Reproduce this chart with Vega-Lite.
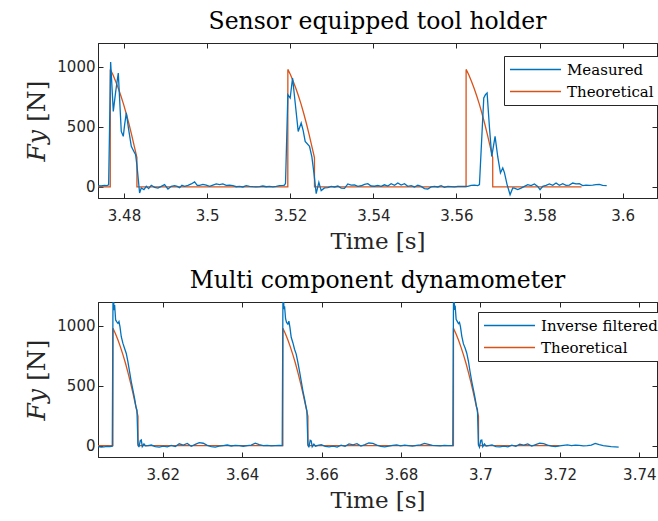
{
  "$schema": "https://vega.github.io/schema/vega-lite/v6.json",
  "background": "white",
  "padding": {"left": 24, "top": 9, "right": 0, "bottom": 0},
  "spacing": 14,
  "config": {
    "view": {"stroke": "#262626", "strokeWidth": 1},
    "axis": {"grid": false, "domainColor": "#262626", "tickColor": "#262626", "labelColor": "#262626", "labelFont": "DejaVu Sans", "labelFontSize": 15, "titleFont": "DejaVu Serif", "titleFontSize": 23, "titleFontWeight": "normal", "titleColor": "#262626", "tickSize": -5, "labelPadding": 15},
    "title": {"font": "DejaVu Serif", "fontSize": 23.5, "fontWeight": "normal", "color": "#000000", "anchor": "middle", "offset": 9.5},
    "legend": {"orient": "none", "fillColor": "white", "strokeColor": "#262626", "padding": 5, "labelFont": "DejaVu Serif", "labelFontSize": 15, "labelColor": "#000000", "symbolType": "stroke", "symbolSize": 2600, "symbolStrokeWidth": 1.3, "clipHeight": 17, "rowPadding": 5, "labelOffset": 5, "title": null}
  },
  "datasets": {
    "top": [
      {"s": "Theoretical", "t": 3.47375, "v": 0}, {"s": "Theoretical", "t": 3.4767, "v": 0},
      {"s": "Theoretical", "t": 3.47671, "v": 980}, {"s": "Theoretical", "t": 3.47735, "v": 935}, {"s": "Theoretical", "t": 3.47799, "v": 882}, {"s": "Theoretical", "t": 3.47863, "v": 823}, {"s": "Theoretical", "t": 3.47927, "v": 758}, {"s": "Theoretical", "t": 3.47991, "v": 688}, {"s": "Theoretical", "t": 3.48055, "v": 610}, {"s": "Theoretical", "t": 3.48119, "v": 527}, {"s": "Theoretical", "t": 3.48183, "v": 437}, {"s": "Theoretical", "t": 3.48247, "v": 340}, {"s": "Theoretical", "t": 3.48311, "v": 245},
      {"s": "Theoretical", "t": 3.48312, "v": 0}, {"s": "Theoretical", "t": 3.51942, "v": 0},
      {"s": "Theoretical", "t": 3.51943, "v": 980}, {"s": "Theoretical", "t": 3.52007, "v": 935}, {"s": "Theoretical", "t": 3.52071, "v": 882}, {"s": "Theoretical", "t": 3.52135, "v": 823}, {"s": "Theoretical", "t": 3.52199, "v": 758}, {"s": "Theoretical", "t": 3.52263, "v": 688}, {"s": "Theoretical", "t": 3.52327, "v": 610}, {"s": "Theoretical", "t": 3.52391, "v": 527}, {"s": "Theoretical", "t": 3.52455, "v": 437}, {"s": "Theoretical", "t": 3.52519, "v": 340}, {"s": "Theoretical", "t": 3.52583, "v": 245},
      {"s": "Theoretical", "t": 3.52584, "v": 0}, {"s": "Theoretical", "t": 3.56231, "v": 0},
      {"s": "Theoretical", "t": 3.56232, "v": 980}, {"s": "Theoretical", "t": 3.56296, "v": 935}, {"s": "Theoretical", "t": 3.5636, "v": 882}, {"s": "Theoretical", "t": 3.56424, "v": 823}, {"s": "Theoretical", "t": 3.56488, "v": 758}, {"s": "Theoretical", "t": 3.56552, "v": 688}, {"s": "Theoretical", "t": 3.56616, "v": 610}, {"s": "Theoretical", "t": 3.5668, "v": 527}, {"s": "Theoretical", "t": 3.56744, "v": 437}, {"s": "Theoretical", "t": 3.56808, "v": 340}, {"s": "Theoretical", "t": 3.56872, "v": 245},
      {"s": "Theoretical", "t": 3.56873, "v": 0}, {"s": "Theoretical", "t": 3.5901, "v": 0},
      {"s": "Measured", "t": 3.47375, "v": 12}, {"s": "Measured", "t": 3.4745, "v": 8}, {"s": "Measured", "t": 3.4753, "v": 14}, {"s": "Measured", "t": 3.4759, "v": 12}, {"s": "Measured", "t": 3.47631, "v": 18},
      {"s": "Measured", "t": 3.47679, "v": 1042}, {"s": "Measured", "t": 3.47743, "v": 630}, {"s": "Measured", "t": 3.47799, "v": 790}, {"s": "Measured", "t": 3.47863, "v": 950}, {"s": "Measured", "t": 3.47935, "v": 463}, {"s": "Measured", "t": 3.47983, "v": 422}, {"s": "Measured", "t": 3.48016, "v": 520}, {"s": "Measured", "t": 3.48056, "v": 617}, {"s": "Measured", "t": 3.48112, "v": 480}, {"s": "Measured", "t": 3.48176, "v": 338}, {"s": "Measured", "t": 3.48232, "v": 300}, {"s": "Measured", "t": 3.4828, "v": 269}, {"s": "Measured", "t": 3.48312, "v": 180}, {"s": "Measured", "t": 3.48376, "v": -50},
      {"s": "Measured", "t": 3.48416, "v": -8}, {"s": "Measured", "t": 3.4848, "v": -22}, {"s": "Measured", "t": 3.48537, "v": 5}, {"s": "Measured", "t": 3.48593, "v": -14}, {"s": "Measured", "t": 3.48657, "v": 14}, {"s": "Measured", "t": 3.48737, "v": -3}, {"s": "Measured", "t": 3.48817, "v": -9}, {"s": "Measured", "t": 3.48897, "v": 5}, {"s": "Measured", "t": 3.48977, "v": 19}, {"s": "Measured", "t": 3.49058, "v": -17}, {"s": "Measured", "t": 3.49138, "v": 5}, {"s": "Measured", "t": 3.49218, "v": 11}, {"s": "Measured", "t": 3.49282, "v": 5}, {"s": "Measured", "t": 3.49338, "v": -6}, {"s": "Measured", "t": 3.49394, "v": 14}, {"s": "Measured", "t": 3.49458, "v": 5}, {"s": "Measured", "t": 3.49539, "v": 14}, {"s": "Measured", "t": 3.49619, "v": 25}, {"s": "Measured", "t": 3.49699, "v": 42}, {"s": "Measured", "t": 3.49763, "v": 14}, {"s": "Measured", "t": 3.49819, "v": 14}, {"s": "Measured", "t": 3.49899, "v": 22}, {"s": "Measured", "t": 3.49979, "v": 16}, {"s": "Measured", "t": 3.5006, "v": 5}, {"s": "Measured", "t": 3.5014, "v": 16}, {"s": "Measured", "t": 3.5022, "v": 25}, {"s": "Measured", "t": 3.503, "v": 19}, {"s": "Measured", "t": 3.5038, "v": 25}, {"s": "Measured", "t": 3.5046, "v": 14}, {"s": "Measured", "t": 3.50541, "v": 16}, {"s": "Measured", "t": 3.50621, "v": 11}, {"s": "Measured", "t": 3.50701, "v": 2}, {"s": "Measured", "t": 3.50781, "v": 5}, {"s": "Measured", "t": 3.50861, "v": 0}, {"s": "Measured", "t": 3.50941, "v": 11}, {"s": "Measured", "t": 3.51021, "v": 5}, {"s": "Measured", "t": 3.51102, "v": 2}, {"s": "Measured", "t": 3.51182, "v": 0}, {"s": "Measured", "t": 3.51262, "v": 2}, {"s": "Measured", "t": 3.51342, "v": 8}, {"s": "Measured", "t": 3.51422, "v": 2}, {"s": "Measured", "t": 3.51503, "v": 5}, {"s": "Measured", "t": 3.51583, "v": 0}, {"s": "Measured", "t": 3.51663, "v": 5}, {"s": "Measured", "t": 3.51743, "v": 11}, {"s": "Measured", "t": 3.51823, "v": 14}, {"s": "Measured", "t": 3.51863, "v": 16}, {"s": "Measured", "t": 3.51887, "v": 30},
      {"s": "Measured", "t": 3.51943, "v": 769}, {"s": "Measured", "t": 3.51999, "v": 741}, {"s": "Measured", "t": 3.52056, "v": 908}, {"s": "Measured", "t": 3.5212, "v": 700}, {"s": "Measured", "t": 3.52192, "v": 463}, {"s": "Measured", "t": 3.52264, "v": 533}, {"s": "Measured", "t": 3.52312, "v": 470}, {"s": "Measured", "t": 3.5236, "v": 380}, {"s": "Measured", "t": 3.52464, "v": 338}, {"s": "Measured", "t": 3.52521, "v": 250}, {"s": "Measured", "t": 3.52569, "v": 120}, {"s": "Measured", "t": 3.52625, "v": -55},
      {"s": "Measured", "t": 3.52689, "v": 38}, {"s": "Measured", "t": 3.52745, "v": -30}, {"s": "Measured", "t": 3.52825, "v": -8}, {"s": "Measured", "t": 3.52905, "v": -5}, {"s": "Measured", "t": 3.52985, "v": 5}, {"s": "Measured", "t": 3.53066, "v": 0}, {"s": "Measured", "t": 3.53146, "v": 8}, {"s": "Measured", "t": 3.53226, "v": -10}, {"s": "Measured", "t": 3.53306, "v": -12}, {"s": "Measured", "t": 3.53386, "v": 25}, {"s": "Measured", "t": 3.53466, "v": 15}, {"s": "Measured", "t": 3.53547, "v": 18}, {"s": "Measured", "t": 3.53627, "v": 5}, {"s": "Measured", "t": 3.53707, "v": 10}, {"s": "Measured", "t": 3.53787, "v": 22}, {"s": "Measured", "t": 3.53867, "v": 28}, {"s": "Measured", "t": 3.53947, "v": 8}, {"s": "Measured", "t": 3.54027, "v": 6}, {"s": "Measured", "t": 3.54108, "v": 12}, {"s": "Measured", "t": 3.54188, "v": 5}, {"s": "Measured", "t": 3.54268, "v": 18}, {"s": "Measured", "t": 3.54348, "v": 8}, {"s": "Measured", "t": 3.54428, "v": 27}, {"s": "Measured", "t": 3.54509, "v": 14}, {"s": "Measured", "t": 3.54589, "v": 33}, {"s": "Measured", "t": 3.54669, "v": 16}, {"s": "Measured", "t": 3.54749, "v": 27}, {"s": "Measured", "t": 3.54829, "v": 5}, {"s": "Measured", "t": 3.54909, "v": 11}, {"s": "Measured", "t": 3.5499, "v": 0}, {"s": "Measured", "t": 3.5507, "v": 14}, {"s": "Measured", "t": 3.5515, "v": 5}, {"s": "Measured", "t": 3.5523, "v": -14}, {"s": "Measured", "t": 3.5531, "v": -17}, {"s": "Measured", "t": 3.5539, "v": 0}, {"s": "Measured", "t": 3.5547, "v": 5}, {"s": "Measured", "t": 3.55551, "v": 0}, {"s": "Measured", "t": 3.55631, "v": 11}, {"s": "Measured", "t": 3.55711, "v": -3}, {"s": "Measured", "t": 3.55791, "v": 5}, {"s": "Measured", "t": 3.55871, "v": 3}, {"s": "Measured", "t": 3.55951, "v": 0}, {"s": "Measured", "t": 3.56032, "v": 5}, {"s": "Measured", "t": 3.56112, "v": 5}, {"s": "Measured", "t": 3.56192, "v": 5}, {"s": "Measured", "t": 3.56272, "v": 5}, {"s": "Measured", "t": 3.56352, "v": 14}, {"s": "Measured", "t": 3.56432, "v": 16}, {"s": "Measured", "t": 3.56513, "v": 11}, {"s": "Measured", "t": 3.56553, "v": 19},
      {"s": "Measured", "t": 3.56593, "v": 300}, {"s": "Measured", "t": 3.56657, "v": 742}, {"s": "Measured", "t": 3.56697, "v": 770}, {"s": "Measured", "t": 3.56737, "v": 783}, {"s": "Measured", "t": 3.56793, "v": 500}, {"s": "Measured", "t": 3.56849, "v": 255}, {"s": "Measured", "t": 3.56929, "v": 422}, {"s": "Measured", "t": 3.56994, "v": 250}, {"s": "Measured", "t": 3.57058, "v": 117}, {"s": "Measured", "t": 3.57114, "v": 158}, {"s": "Measured", "t": 3.57154, "v": 120}, {"s": "Measured", "t": 3.57218, "v": 20}, {"s": "Measured", "t": 3.5729, "v": -64}, {"s": "Measured", "t": 3.57354, "v": -8},
      {"s": "Measured", "t": 3.57394, "v": -9}, {"s": "Measured", "t": 3.57474, "v": -22}, {"s": "Measured", "t": 3.57555, "v": -9}, {"s": "Measured", "t": 3.57635, "v": 5}, {"s": "Measured", "t": 3.57715, "v": 19}, {"s": "Measured", "t": 3.57795, "v": 11}, {"s": "Measured", "t": 3.57875, "v": 25}, {"s": "Measured", "t": 3.57955, "v": 5}, {"s": "Measured", "t": 3.58011, "v": -22}, {"s": "Measured", "t": 3.58076, "v": 5}, {"s": "Measured", "t": 3.58156, "v": 14}, {"s": "Measured", "t": 3.58236, "v": 25}, {"s": "Measured", "t": 3.58316, "v": 14}, {"s": "Measured", "t": 3.58396, "v": 33}, {"s": "Measured", "t": 3.58476, "v": 14}, {"s": "Measured", "t": 3.58557, "v": 27}, {"s": "Measured", "t": 3.58637, "v": 14}, {"s": "Measured", "t": 3.58717, "v": 16}, {"s": "Measured", "t": 3.58797, "v": 33}, {"s": "Measured", "t": 3.58877, "v": 25}, {"s": "Measured", "t": 3.58957, "v": 27}, {"s": "Measured", "t": 3.59038, "v": 11}, {"s": "Measured", "t": 3.59118, "v": 16}, {"s": "Measured", "t": 3.59198, "v": 14}, {"s": "Measured", "t": 3.59278, "v": 16}, {"s": "Measured", "t": 3.59358, "v": 19}, {"s": "Measured", "t": 3.59438, "v": 22}, {"s": "Measured", "t": 3.59518, "v": 14}, {"s": "Measured", "t": 3.59615, "v": 11}
    ],
    "bot": [
      {"s": "Theoretical", "t": 3.60369, "v": 0}, {"s": "Theoretical", "t": 3.60745, "v": 0},
      {"s": "Theoretical", "t": 3.60746, "v": 980}, {"s": "Theoretical", "t": 3.60809, "v": 935}, {"s": "Theoretical", "t": 3.60872, "v": 882}, {"s": "Theoretical", "t": 3.60935, "v": 823}, {"s": "Theoretical", "t": 3.60998, "v": 758}, {"s": "Theoretical", "t": 3.61061, "v": 688}, {"s": "Theoretical", "t": 3.61124, "v": 610}, {"s": "Theoretical", "t": 3.61187, "v": 527}, {"s": "Theoretical", "t": 3.6125, "v": 437}, {"s": "Theoretical", "t": 3.61313, "v": 340}, {"s": "Theoretical", "t": 3.61376, "v": 245},
      {"s": "Theoretical", "t": 3.61377, "v": 0}, {"s": "Theoretical", "t": 3.65024, "v": 0},
      {"s": "Theoretical", "t": 3.65025, "v": 980}, {"s": "Theoretical", "t": 3.65088, "v": 935}, {"s": "Theoretical", "t": 3.65151, "v": 882}, {"s": "Theoretical", "t": 3.65214, "v": 823}, {"s": "Theoretical", "t": 3.65277, "v": 758}, {"s": "Theoretical", "t": 3.6534, "v": 688}, {"s": "Theoretical", "t": 3.65403, "v": 610}, {"s": "Theoretical", "t": 3.65466, "v": 527}, {"s": "Theoretical", "t": 3.65529, "v": 437}, {"s": "Theoretical", "t": 3.65592, "v": 340}, {"s": "Theoretical", "t": 3.65655, "v": 245},
      {"s": "Theoretical", "t": 3.65656, "v": 0}, {"s": "Theoretical", "t": 3.69319, "v": 0},
      {"s": "Theoretical", "t": 3.6932, "v": 980}, {"s": "Theoretical", "t": 3.69383, "v": 935}, {"s": "Theoretical", "t": 3.69446, "v": 882}, {"s": "Theoretical", "t": 3.69509, "v": 823}, {"s": "Theoretical", "t": 3.69572, "v": 758}, {"s": "Theoretical", "t": 3.69635, "v": 688}, {"s": "Theoretical", "t": 3.69698, "v": 610}, {"s": "Theoretical", "t": 3.69761, "v": 527}, {"s": "Theoretical", "t": 3.69824, "v": 437}, {"s": "Theoretical", "t": 3.69887, "v": 340}, {"s": "Theoretical", "t": 3.6995, "v": 245},
      {"s": "Theoretical", "t": 3.69951, "v": 0}, {"s": "Theoretical", "t": 3.7199, "v": 0},
      {"s": "Inverse filtered", "t": 3.60369, "v": -8}, {"s": "Inverse filtered", "t": 3.6045, "v": -12}, {"s": "Inverse filtered", "t": 3.6052, "v": -10}, {"s": "Inverse filtered", "t": 3.606, "v": -6}, {"s": "Inverse filtered", "t": 3.6067, "v": -9}, {"s": "Inverse filtered", "t": 3.60729, "v": -5},
      {"s": "Inverse filtered", "t": 3.60746, "v": 1190}, {"s": "Inverse filtered", "t": 3.60763, "v": 1260}, {"s": "Inverse filtered", "t": 3.60771, "v": 1132}, {"s": "Inverse filtered", "t": 3.60788, "v": 1175}, {"s": "Inverse filtered", "t": 3.60813, "v": 1050}, {"s": "Inverse filtered", "t": 3.60838, "v": 1036}, {"s": "Inverse filtered", "t": 3.60872, "v": 1022}, {"s": "Inverse filtered", "t": 3.60897, "v": 1036}, {"s": "Inverse filtered", "t": 3.60922, "v": 994}, {"s": "Inverse filtered", "t": 3.60955, "v": 910}, {"s": "Inverse filtered", "t": 3.60997, "v": 854}, {"s": "Inverse filtered", "t": 3.61039, "v": 812}, {"s": "Inverse filtered", "t": 3.61081, "v": 770}, {"s": "Inverse filtered", "t": 3.61123, "v": 700}, {"s": "Inverse filtered", "t": 3.61165, "v": 617}, {"s": "Inverse filtered", "t": 3.61207, "v": 533}, {"s": "Inverse filtered", "t": 3.61249, "v": 463}, {"s": "Inverse filtered", "t": 3.61291, "v": 393}, {"s": "Inverse filtered", "t": 3.61325, "v": 324}, {"s": "Inverse filtered", "t": 3.6135, "v": 296}, {"s": "Inverse filtered", "t": 3.61375, "v": 15}, {"s": "Inverse filtered", "t": 3.614, "v": -13}, {"s": "Inverse filtered", "t": 3.61434, "v": 42}, {"s": "Inverse filtered", "t": 3.61459, "v": 48}, {"s": "Inverse filtered", "t": 3.61484, "v": -8}, {"s": "Inverse filtered", "t": 3.61526, "v": 14}, {"s": "Inverse filtered", "t": 3.61568, "v": -2}, {"s": "Inverse filtered", "t": 3.61627, "v": 0},
      {"s": "Inverse filtered", "t": 3.61711, "v": 5}, {"s": "Inverse filtered", "t": 3.61811, "v": -8}, {"s": "Inverse filtered", "t": 3.61912, "v": -12}, {"s": "Inverse filtered", "t": 3.62013, "v": -5}, {"s": "Inverse filtered", "t": 3.62113, "v": -10}, {"s": "Inverse filtered", "t": 3.62214, "v": 2}, {"s": "Inverse filtered", "t": 3.62315, "v": -8}, {"s": "Inverse filtered", "t": 3.62415, "v": 15}, {"s": "Inverse filtered", "t": 3.62516, "v": 5}, {"s": "Inverse filtered", "t": 3.62617, "v": 18}, {"s": "Inverse filtered", "t": 3.62717, "v": -5}, {"s": "Inverse filtered", "t": 3.62818, "v": 10}, {"s": "Inverse filtered", "t": 3.62919, "v": 25}, {"s": "Inverse filtered", "t": 3.63019, "v": 20}, {"s": "Inverse filtered", "t": 3.6312, "v": 2}, {"s": "Inverse filtered", "t": 3.63221, "v": -8}, {"s": "Inverse filtered", "t": 3.63321, "v": -12}, {"s": "Inverse filtered", "t": 3.63422, "v": -5}, {"s": "Inverse filtered", "t": 3.63523, "v": 0}, {"s": "Inverse filtered", "t": 3.63623, "v": 5}, {"s": "Inverse filtered", "t": 3.63724, "v": -3}, {"s": "Inverse filtered", "t": 3.63825, "v": 2}, {"s": "Inverse filtered", "t": 3.63925, "v": 0}, {"s": "Inverse filtered", "t": 3.64026, "v": -5}, {"s": "Inverse filtered", "t": 3.64127, "v": 0}, {"s": "Inverse filtered", "t": 3.64227, "v": 5}, {"s": "Inverse filtered", "t": 3.64328, "v": 20}, {"s": "Inverse filtered", "t": 3.64429, "v": 8}, {"s": "Inverse filtered", "t": 3.64529, "v": 0}, {"s": "Inverse filtered", "t": 3.6463, "v": 2}, {"s": "Inverse filtered", "t": 3.64731, "v": -2}, {"s": "Inverse filtered", "t": 3.64831, "v": 0}, {"s": "Inverse filtered", "t": 3.64932, "v": 2}, {"s": "Inverse filtered", "t": 3.65008, "v": 0},
      {"s": "Inverse filtered", "t": 3.65025, "v": 1185}, {"s": "Inverse filtered", "t": 3.65042, "v": 1255}, {"s": "Inverse filtered", "t": 3.6505, "v": 1140}, {"s": "Inverse filtered", "t": 3.65067, "v": 1165}, {"s": "Inverse filtered", "t": 3.65092, "v": 1060}, {"s": "Inverse filtered", "t": 3.65117, "v": 1030}, {"s": "Inverse filtered", "t": 3.65151, "v": 1015}, {"s": "Inverse filtered", "t": 3.65176, "v": 1040}, {"s": "Inverse filtered", "t": 3.65201, "v": 990}, {"s": "Inverse filtered", "t": 3.65234, "v": 905}, {"s": "Inverse filtered", "t": 3.65276, "v": 860}, {"s": "Inverse filtered", "t": 3.65318, "v": 805}, {"s": "Inverse filtered", "t": 3.6536, "v": 765}, {"s": "Inverse filtered", "t": 3.65402, "v": 695}, {"s": "Inverse filtered", "t": 3.65444, "v": 620}, {"s": "Inverse filtered", "t": 3.65486, "v": 540}, {"s": "Inverse filtered", "t": 3.65528, "v": 458}, {"s": "Inverse filtered", "t": 3.6557, "v": 390}, {"s": "Inverse filtered", "t": 3.65604, "v": 330}, {"s": "Inverse filtered", "t": 3.65629, "v": 290}, {"s": "Inverse filtered", "t": 3.65654, "v": 12}, {"s": "Inverse filtered", "t": 3.65679, "v": -15}, {"s": "Inverse filtered", "t": 3.65713, "v": 45}, {"s": "Inverse filtered", "t": 3.65738, "v": 40}, {"s": "Inverse filtered", "t": 3.65763, "v": -10}, {"s": "Inverse filtered", "t": 3.65805, "v": 12}, {"s": "Inverse filtered", "t": 3.65847, "v": -5}, {"s": "Inverse filtered", "t": 3.65906, "v": 2},
      {"s": "Inverse filtered", "t": 3.6599, "v": 8}, {"s": "Inverse filtered", "t": 3.6609, "v": -6}, {"s": "Inverse filtered", "t": 3.6619, "v": -10}, {"s": "Inverse filtered", "t": 3.6629, "v": -4}, {"s": "Inverse filtered", "t": 3.6639, "v": -12}, {"s": "Inverse filtered", "t": 3.6649, "v": 4}, {"s": "Inverse filtered", "t": 3.6659, "v": -6}, {"s": "Inverse filtered", "t": 3.6669, "v": 14}, {"s": "Inverse filtered", "t": 3.6679, "v": 6}, {"s": "Inverse filtered", "t": 3.6689, "v": 16}, {"s": "Inverse filtered", "t": 3.6699, "v": -4}, {"s": "Inverse filtered", "t": 3.6709, "v": 8}, {"s": "Inverse filtered", "t": 3.6719, "v": 22}, {"s": "Inverse filtered", "t": 3.6729, "v": 18}, {"s": "Inverse filtered", "t": 3.6739, "v": 4}, {"s": "Inverse filtered", "t": 3.6749, "v": -6}, {"s": "Inverse filtered", "t": 3.6759, "v": -10}, {"s": "Inverse filtered", "t": 3.6769, "v": -4}, {"s": "Inverse filtered", "t": 3.6779, "v": 2}, {"s": "Inverse filtered", "t": 3.6789, "v": 6}, {"s": "Inverse filtered", "t": 3.6799, "v": -2}, {"s": "Inverse filtered", "t": 3.6809, "v": 4}, {"s": "Inverse filtered", "t": 3.6819, "v": 0}, {"s": "Inverse filtered", "t": 3.6829, "v": -4}, {"s": "Inverse filtered", "t": 3.6839, "v": 2}, {"s": "Inverse filtered", "t": 3.6849, "v": 6}, {"s": "Inverse filtered", "t": 3.6859, "v": 18}, {"s": "Inverse filtered", "t": 3.6869, "v": 10}, {"s": "Inverse filtered", "t": 3.6879, "v": 2}, {"s": "Inverse filtered", "t": 3.6889, "v": 0}, {"s": "Inverse filtered", "t": 3.6899, "v": -2}, {"s": "Inverse filtered", "t": 3.6909, "v": 2}, {"s": "Inverse filtered", "t": 3.6919, "v": 0}, {"s": "Inverse filtered", "t": 3.69303, "v": 0},
      {"s": "Inverse filtered", "t": 3.6932, "v": 1195}, {"s": "Inverse filtered", "t": 3.69337, "v": 1250}, {"s": "Inverse filtered", "t": 3.69345, "v": 1135}, {"s": "Inverse filtered", "t": 3.69362, "v": 1170}, {"s": "Inverse filtered", "t": 3.69387, "v": 1055}, {"s": "Inverse filtered", "t": 3.69412, "v": 1040}, {"s": "Inverse filtered", "t": 3.69446, "v": 1020}, {"s": "Inverse filtered", "t": 3.69471, "v": 1030}, {"s": "Inverse filtered", "t": 3.69496, "v": 995}, {"s": "Inverse filtered", "t": 3.69529, "v": 915}, {"s": "Inverse filtered", "t": 3.69571, "v": 850}, {"s": "Inverse filtered", "t": 3.69613, "v": 815}, {"s": "Inverse filtered", "t": 3.69655, "v": 772}, {"s": "Inverse filtered", "t": 3.69697, "v": 705}, {"s": "Inverse filtered", "t": 3.69739, "v": 615}, {"s": "Inverse filtered", "t": 3.69781, "v": 535}, {"s": "Inverse filtered", "t": 3.69823, "v": 465}, {"s": "Inverse filtered", "t": 3.69865, "v": 395}, {"s": "Inverse filtered", "t": 3.69899, "v": 328}, {"s": "Inverse filtered", "t": 3.69924, "v": 300}, {"s": "Inverse filtered", "t": 3.69949, "v": 10}, {"s": "Inverse filtered", "t": 3.69974, "v": -12}, {"s": "Inverse filtered", "t": 3.70008, "v": 44}, {"s": "Inverse filtered", "t": 3.70033, "v": 46}, {"s": "Inverse filtered", "t": 3.70058, "v": -8}, {"s": "Inverse filtered", "t": 3.701, "v": 14}, {"s": "Inverse filtered", "t": 3.70142, "v": -4}, {"s": "Inverse filtered", "t": 3.70201, "v": 0},
      {"s": "Inverse filtered", "t": 3.7029, "v": 6}, {"s": "Inverse filtered", "t": 3.7039, "v": -8}, {"s": "Inverse filtered", "t": 3.7049, "v": -10}, {"s": "Inverse filtered", "t": 3.7059, "v": -4}, {"s": "Inverse filtered", "t": 3.7069, "v": -10}, {"s": "Inverse filtered", "t": 3.7079, "v": 4}, {"s": "Inverse filtered", "t": 3.7089, "v": -6}, {"s": "Inverse filtered", "t": 3.7099, "v": 12}, {"s": "Inverse filtered", "t": 3.7109, "v": 4}, {"s": "Inverse filtered", "t": 3.7119, "v": 14}, {"s": "Inverse filtered", "t": 3.7129, "v": -4}, {"s": "Inverse filtered", "t": 3.7139, "v": 8}, {"s": "Inverse filtered", "t": 3.7149, "v": 20}, {"s": "Inverse filtered", "t": 3.7159, "v": 16}, {"s": "Inverse filtered", "t": 3.7169, "v": 4}, {"s": "Inverse filtered", "t": 3.7179, "v": -4}, {"s": "Inverse filtered", "t": 3.7189, "v": -8}, {"s": "Inverse filtered", "t": 3.7199, "v": -2}, {"s": "Inverse filtered", "t": 3.7209, "v": 2}, {"s": "Inverse filtered", "t": 3.7219, "v": 6}, {"s": "Inverse filtered", "t": 3.7229, "v": 0}, {"s": "Inverse filtered", "t": 3.7239, "v": 4}, {"s": "Inverse filtered", "t": 3.7249, "v": 2}, {"s": "Inverse filtered", "t": 3.7259, "v": -2}, {"s": "Inverse filtered", "t": 3.7269, "v": 0}, {"s": "Inverse filtered", "t": 3.7279, "v": 4}, {"s": "Inverse filtered", "t": 3.7289, "v": 18}, {"s": "Inverse filtered", "t": 3.7299, "v": 8}, {"s": "Inverse filtered", "t": 3.7309, "v": 0}, {"s": "Inverse filtered", "t": 3.7319, "v": -4}, {"s": "Inverse filtered", "t": 3.7329, "v": -8}, {"s": "Inverse filtered", "t": 3.7339, "v": -10}, {"s": "Inverse filtered", "t": 3.7348, "v": -12}
    ]
  },
  "vconcat": [
    {
      "title": {"text": "Sensor equipped tool holder"},
      "width": 559, "height": 155,
      "data": {"name": "top"},
      "layer": [
        {
          "mark": {"type": "line", "strokeWidth": 1.3, "clip": true},
          "encoding": {
            "x": {"field": "t", "type": "quantitative", "scale": {"domain": [3.47375, 3.60825], "nice": false, "zero": false}, "axis": {"orient": "bottom", "values": [3.48, 3.5, 3.52, 3.54, 3.56, 3.58, 3.6], "format": "~g", "title": "Time [s]", "titlePadding": 7.5}},
            "y": {"field": "v", "type": "quantitative", "scale": {"domain": [-92, 1200], "nice": false, "zero": false}, "axis": {"orient": "left", "values": [0, 500, 1000], "format": "d", "title": "𝐹𝑦 [N]", "titleFontSize": 25, "titlePadding": 7, "labelPadding": 8}},
            "color": {"field": "s", "type": "nominal", "scale": {"domain": ["Measured", "Theoretical"], "range": ["#0072BD", "#D95319"]}, "legend": {"legendX": 406, "legendY": 13}}
          }
        },
        {
          "mark": {"type": "line", "opacity": 0},
          "encoding": {
            "x": {"field": "t", "type": "quantitative", "scale": {"domain": [3.47375, 3.60825], "nice": false, "zero": false}, "axis": {"orient": "top", "values": [3.48, 3.5, 3.52, 3.54, 3.56, 3.58, 3.6], "labels": false, "title": null}},
            "y": {"field": "v", "type": "quantitative", "scale": {"domain": [-92, 1200], "nice": false, "zero": false}, "axis": {"orient": "right", "values": [0, 500, 1000], "labels": false, "title": null}}
          }
        }
      ],
      "resolve": {"scale": {"x": "independent", "y": "independent"}, "axis": {"x": "independent", "y": "independent"}}
    },
    {
      "title": {"text": "Multi component dynamometer", "offset": 2.5},
      "width": 559, "height": 155,
      "data": {"name": "bot"},
      "layer": [
        {
          "mark": {"type": "line", "strokeWidth": 1.3, "clip": true},
          "encoding": {
            "x": {"field": "t", "type": "quantitative", "scale": {"domain": [3.60369, 3.74445], "nice": false, "zero": false}, "axis": {"orient": "bottom", "values": [3.62, 3.64, 3.66, 3.68, 3.7, 3.72, 3.74], "format": "~g", "title": "Time [s]", "titlePadding": 7.5}},
            "y": {"field": "v", "type": "quantitative", "scale": {"domain": [-95, 1200], "nice": false, "zero": false}, "axis": {"orient": "left", "values": [0, 500, 1000], "format": "d", "title": "𝐹𝑦 [N]", "titleFontSize": 25, "titlePadding": 7, "labelPadding": 8}},
            "color": {"field": "s", "type": "nominal", "scale": {"domain": ["Inverse filtered", "Theoretical"], "range": ["#0072BD", "#D95319"]}, "legend": {"legendX": 380, "legendY": 10}}
          }
        },
        {
          "mark": {"type": "line", "opacity": 0},
          "encoding": {
            "x": {"field": "t", "type": "quantitative", "scale": {"domain": [3.60369, 3.74445], "nice": false, "zero": false}, "axis": {"orient": "top", "values": [3.62, 3.64, 3.66, 3.68, 3.7, 3.72, 3.74], "labels": false, "title": null}},
            "y": {"field": "v", "type": "quantitative", "scale": {"domain": [-95, 1200], "nice": false, "zero": false}, "axis": {"orient": "right", "values": [0, 500, 1000], "labels": false, "title": null}}
          }
        }
      ],
      "resolve": {"scale": {"x": "independent", "y": "independent"}, "axis": {"x": "independent", "y": "independent"}}
    }
  ],
  "resolve": {"scale": {"color": "independent"}, "legend": {"color": "independent"}}
}
